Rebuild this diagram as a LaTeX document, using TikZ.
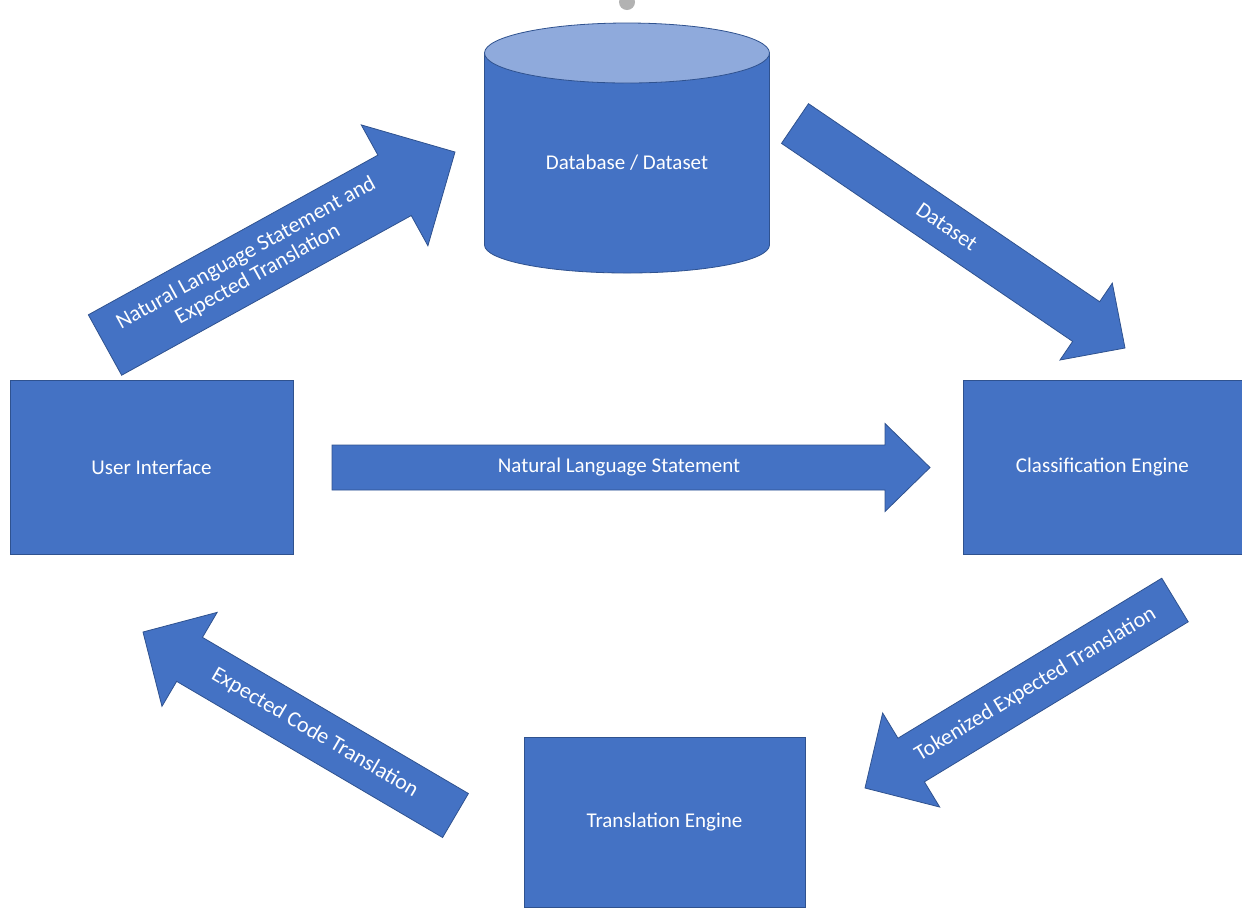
\documentclass[tikz,border=0pt]{standalone}
\usepackage{fontspec}
\setmainfont{Carlito}
\usetikzlibrary{calc}

\definecolor{boxblue}{HTML}{4472C4}
\definecolor{edgeblue}{HTML}{2F528F}
\definecolor{topblue}{HTML}{8FAADC}

\tikzset{
  block/.style={draw=edgeblue, fill=boxblue, line width=0.5pt, text=white,
    font=\fontsize{10.5}{12.6}\selectfont},
  arrowbody/.style={draw=edgeblue, fill=boxblue, line width=0.4pt},
  arrowtext/.style={text=white, align=center, inner sep=0pt,
    font=\fontsize{11}{12}\selectfont},
}

% block arrow: tail, tip, half shaft width, half head width, head length
\newcommand{\blockarrow}[5]{%
  \draw[arrowbody] ($(#1)!#3!90:(#2)$)
    -- ($($(#2)!#5!(#1)$)!#3!-90:(#1)$)
    -- ($($(#2)!#5!(#1)$)!#4!-90:(#1)$)
    -- (#2)
    -- ($($(#2)!#5!(#1)$)!#4!90:(#1)$)
    -- ($($(#2)!#5!(#1)$)!#3!90:(#1)$)
    -- ($(#1)!#3!-90:(#2)$) -- cycle;}

\begin{document}
\begin{tikzpicture}[x=0.5pt,y=-0.5pt]
    \useasboundingbox (0,0) rectangle (1242,907);

    % Database cylinder
    \fill[gray!60] (627,2) ellipse [x radius=8, y radius=8];
    \draw[arrowbody] (484.5,53) -- (484.5,245)
        arc[start angle=180, end angle=0, x radius=142.5, y radius=28]
        -- (769.5,53) -- cycle;
    \draw[arrowbody, fill=topblue] (627,53) ellipse [x radius=142.5, y radius=30];
    \node[text=white, font=\fontsize{10.5}{12.6}\selectfont] (db) at (627,163) {Database / Dataset};

    % Boxes
    \node[block, minimum width=141.5pt, minimum height=87pt] (ui) at (151.5,467) {User Interface};
    \node[block, minimum width=139.5pt, minimum height=87pt] (ce) at (1102.5,467) {Classification Engine};
    \node[block, minimum width=140.5pt, minimum height=85pt] (te) at (664.5,822) {Translation Engine};

    % Arrow ends
    \coordinate (uiup) at (105,345);
    \coordinate (dbin) at (455,152);
    \coordinate (dbout) at (795,123.5);
    \coordinate (cein) at (1125,348);
    \coordinate (uiright) at (332,467.5);
    \coordinate (celeft) at (930,467.5);
    \coordinate (cedown) at (1175,600);
    \coordinate (tein) at (865,788);
    \coordinate (teout) at (455.5,815.5);
    \coordinate (uiin) at (143,632);

    % Block arrows
    \blockarrow{uiup}{dbin}{17.25pt}{34.5pt}{34.5pt}
    \blockarrow{dbout}{cein}{12pt}{23.25pt}{23.5pt}
    \blockarrow{uiright}{celeft}{11.25pt}{22pt}{22.5pt}
    \blockarrow{cedown}{tein}{12.75pt}{27.5pt}{27pt}
    \blockarrow{teout}{uiin}{12.75pt}{27.25pt}{27pt}

    % Arrow labels
    \node[arrowtext, rotate=29] at ($(uiup)!0.42!(dbin)$) {Natural Language Statement and\\Expected Translation};
    \node[arrowtext, rotate=-34.2] at ($(dbout)!0.46!(cein)$) {Dataset};
    \node[arrowtext, font=\fontsize{10.5}{12.6}\selectfont] at ($(uiright)!0.48!(celeft)$) {Natural Language Statement};
    \node[arrowtext, rotate=31.2] at ($(cedown)!0.45!(tein)$) {Tokenized Expected Translation};
    \node[arrowtext, rotate=-30.4] at ($(teout)!0.45!(uiin)$) {Expected Code Translation};
\end{tikzpicture}
\end{document}
